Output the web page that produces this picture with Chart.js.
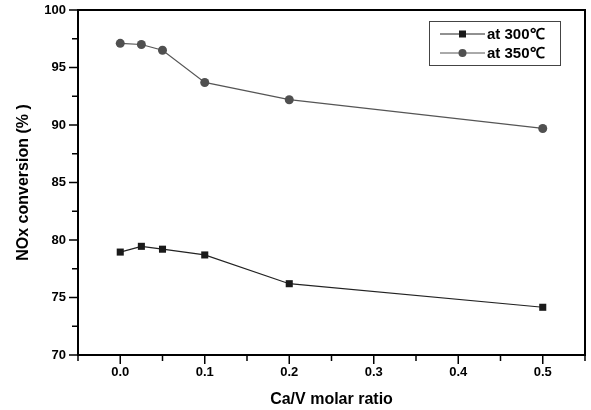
<!DOCTYPE html>
<html>
<head>
<meta charset="utf-8">
<script src="https://cdn.jsdelivr.net/npm/chart.js@4/dist/chart.umd.min.js"></script>
<style>
  html, body { margin: 0; padding: 0; background: #fff; }
  #wrap { width: 591px; height: 410px; }
</style>
</head>
<body>
<div id="wrap"><canvas id="chart" width="591" height="410"></canvas></div>
<script>
const ratios = [0, 0.025, 0.05, 0.1, 0.2, 0.5];
const conv300 = [78.95, 79.45, 79.2, 78.7, 76.2, 74.15];
const conv350 = [97.1, 97.0, 96.5, 93.7, 92.2, 89.7];
const seriesLabels = ['at 300\u2103', 'at 350\u2103'];

const FONT = "'Liberation Sans', Arial, sans-serif";

function toPoints(xs, ys) {
  return xs.map((x, i) => ({ x: x, y: ys[i] }));
}

function isMultiple(v, step) {
  return Math.abs(v / step - Math.round(v / step)) < 1e-6;
}

// outward tick marks, longer on labelled ticks, plus the top/right frame
const frameTicks = {
  id: 'frameTicks',
  afterDraw(chart) {
    const ctx = chart.ctx;
    const a = chart.chartArea;
    const xs = chart.scales.x;
    const ys = chart.scales.y;
    ctx.save();
    ctx.strokeStyle = '#000';
    ctx.lineWidth = 2;
    ctx.beginPath();
    ctx.moveTo(a.left, a.top);
    ctx.lineTo(a.right, a.top);
    ctx.lineTo(a.right, a.bottom);
    ctx.stroke();

    ctx.lineWidth = 1.5;
    ctx.beginPath();
    xs.ticks.forEach((t, i) => {
      const px = xs.getPixelForTick(i);
      const len = isMultiple(t.value, 0.1) ? 9 : 6;
      ctx.moveTo(px, a.bottom);
      ctx.lineTo(px, a.bottom + len);
    });
    ys.ticks.forEach((t, i) => {
      const py = ys.getPixelForTick(i);
      const len = isMultiple(t.value, 5) ? 9 : 6;
      ctx.moveTo(a.left, py);
      ctx.lineTo(a.left - len, py);
    });
    ctx.stroke();
    ctx.restore();
  }
};

// legend box: line with marker, then label
const boxLegend = {
  id: 'boxLegend',
  afterDraw(chart) {
    const ctx = chart.ctx;
    const left = 429, top = 21, w = 131, h = 44;
    ctx.save();
    ctx.strokeStyle = '#444';
    ctx.lineWidth = 1;
    ctx.strokeRect(left + 0.5, top + 0.5, w, h);
    chart.data.datasets.forEach((ds, i) => {
      const y = top + 13 + i * 19;
      ctx.strokeStyle = ds.borderColor;
      ctx.lineWidth = 1;
      ctx.beginPath();
      ctx.moveTo(left + 11, y);
      ctx.lineTo(left + 56, y);
      ctx.stroke();
      ctx.fillStyle = ds.pointBackgroundColor;
      const cx = left + 33.5;
      if (ds.pointStyle === 'rect') {
        ctx.fillRect(cx - 3.5, y - 3.5, 7, 7);
      } else {
        ctx.beginPath();
        ctx.arc(cx, y, 4, 0, Math.PI * 2);
        ctx.fill();
      }
      ctx.fillStyle = '#000';
      ctx.font = 'bold 15px ' + FONT;
      ctx.textBaseline = 'middle';
      ctx.fillText(ds.label, left + 58, y + 1);
    });
    ctx.restore();
  }
};

new Chart(document.getElementById('chart'), {
  type: 'line',
  data: {
    datasets: [
      {
        label: seriesLabels[0],
        data: toPoints(ratios, conv300),
        borderColor: '#222',
        borderWidth: 1.2,
        pointStyle: 'rect',
        pointRadius: 5,
        pointBackgroundColor: '#1a1a1a',
        pointBorderColor: '#1a1a1a',
        pointBorderWidth: 0
      },
      {
        label: seriesLabels[1],
        data: toPoints(ratios, conv350),
        borderColor: '#555',
        borderWidth: 1.2,
        pointStyle: 'circle',
        pointRadius: 4.5,
        pointBackgroundColor: '#505050',
        pointBorderColor: '#505050',
        pointBorderWidth: 0
      }
    ]
  },
  options: {
    responsive: false,
    animation: false,
    layout: { padding: { top: 10, right: 6, left: 0, bottom: 0 } },
    plugins: {
      legend: { display: false },
      tooltip: { enabled: false }
    },
    scales: {
      x: {
        type: 'linear',
        min: -0.05,
        max: 0.55,
        afterFit(scale) {
          scale.height = 55;
          scale.paddingLeft = 0;
          scale.paddingRight = 0;
        },
        border: { display: true, color: '#000', width: 2 },
        grid: { drawOnChartArea: false, drawTicks: false },
        ticks: {
          stepSize: 0.05,
          padding: 10,
          color: '#000',
          font: { family: FONT, size: 13, weight: 'bold' },
          maxRotation: 0,
          autoSkip: false,
          callback(v) {
            if (v < -1e-9 || !isMultiple(v, 0.1)) return '';
            return v.toFixed(1);
          }
        },
        title: {
          display: true,
          text: 'Ca/V molar ratio',
          color: '#000',
          font: { family: FONT, size: 16, weight: 'bold' },
          padding: { top: 4, bottom: 1 }
        }
      },
      y: {
        min: 70,
        max: 100,
        afterFit(scale) {
          scale.width = 78;
          scale.paddingTop = 0;
          scale.paddingBottom = 0;
        },
        border: { display: true, color: '#000', width: 2 },
        grid: { drawOnChartArea: false, drawTicks: false },
        ticks: {
          stepSize: 2.5,
          padding: 12,
          color: '#000',
          font: { family: FONT, size: 13, weight: 'bold' },
          autoSkip: false,
          callback(v) {
            return isMultiple(v, 5) ? String(v) : '';
          }
        },
        title: {
          display: true,
          text: 'NOx conversion (% )',
          color: '#000',
          font: { family: FONT, size: 16, weight: 'bold' },
          padding: { top: 14, bottom: 0 }
        }
      }
    }
  },
  plugins: [frameTicks, boxLegend]
});
</script>
</body>
</html>
